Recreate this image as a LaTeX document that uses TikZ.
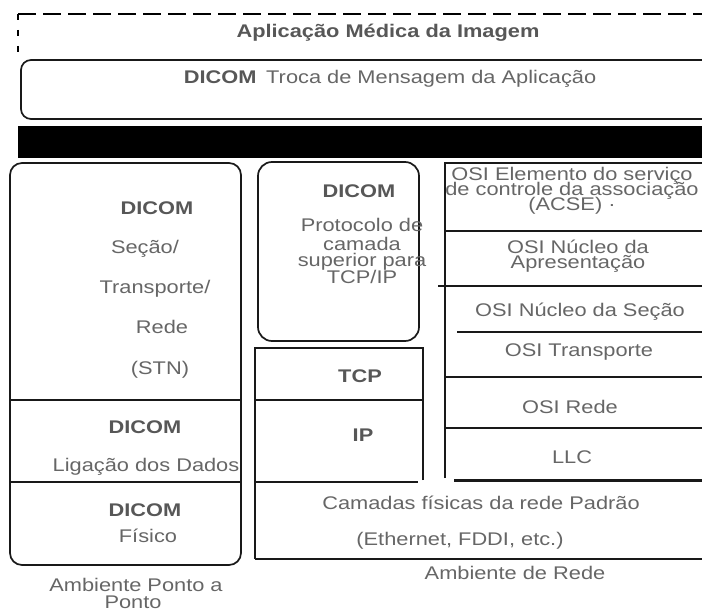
\documentclass[tikz,border=0pt]{standalone}
\usepackage{fontspec}
\setmainfont{Liberation Sans}
\newcommand{\sqz}[1]{\scalebox{1}[0.84]{#1}}
\tikzset{
  ln/.style={line width=0.85pt, draw=black!90},
  tx/.style={text=black!60, inner sep=0pt, anchor=base, font=\fontsize{10.9}{12}\selectfont},
  bx/.style={tx, text=black!66, font=\fontsize{10.9}{12}\selectfont\bfseries},
}
\begin{document}
\begin{tikzpicture}[x=0.5pt, y=-0.5pt]
\useasboundingbox (0,0) rectangle (702,610);
\clip (0,0) rectangle (702,610);
% top dashed frame
\draw[line width=0.8pt, dash pattern=on 9pt off 3.5pt] (18,14) -- (710,14);
\draw[line width=0.8pt, dash pattern=on 3pt off 5pt] (18,14) -- (18,56);
\node[bx] (title) at (388,38) {\sqz{Aplicação Médica da Imagem}};
% message exchange box
\draw[ln, rounded corners=5pt] (720,60) -| (21,119) -- (720,119);
\node[tx] (msg) at (390,84) {\sqz{\textbf{\color{black!66}DICOM}\hspace{0.45em}Troca de Mensagem da Aplicação}};
% black bar
\fill[black] (18,126) rectangle (710,158);
% left column
\draw[ln, rounded corners=6pt] (10,163) rectangle (241,565);
\draw[ln] (10,400) -- (241,400);
\draw[ln] (10,482) -- (241,482);
\node[bx] (ld1) at (157,214) {\sqz{DICOM}};
\node[tx] (lsec) at (145,253) {\sqz{Seção/}};
\node[tx] (ltra) at (155,293) {\sqz{Transporte/}};
\node[tx] (lred) at (162,333) {\sqz{Rede}};
\node[tx] (lstn) at (160,374) {\sqz{(STN)}};
\node[bx] (ld2) at (145,433) {\sqz{DICOM}};
\node[tx] (llig) at (146,471) {\sqz{Ligação dos Dados}};
\node[bx] (ld3) at (145,516) {\sqz{DICOM}};
\node[tx] (lfis) at (148,542) {\sqz{Físico}};
\node[tx] (lamb1) at (136,591) {\sqz{Ambiente Ponto a}};
\node[tx] (lamb2) at (133,608) {\sqz{Ponto}};
% middle column
\draw[ln, rounded corners=7pt] (258,162) rectangle (419,341);
\node[bx] (md) at (359,198) {\sqz{DICOM}};
\node[tx] (mp1) at (362,232) {\sqz{Protocolo de}};
\node[tx] (mp2) at (362,250) {\sqz{camada}};
\node[tx] (mp3) at (362,266) {\sqz{superior para}};
\node[tx] (mp4) at (362,284) {\sqz{TCP/IP}};
\draw[ln] (423,480) -- (423,348) -- (255,348) -- (255,559);
\draw[ln] (255,400) -- (423,400);
\draw[ln] (255,482) -- (418,482);
\node[bx] (mtcp) at (360,382) {\sqz{TCP}};
\node[bx] (mip) at (363,441) {\sqz{IP}};
% network box
\draw[ln] (255,559) -- (710,559);
\node[tx] (n1) at (481,509) {\sqz{Camadas físicas da rede Padrão}};
\node[tx] (n2) at (460,545) {\sqz{(Ethernet, FDDI, etc.)}};
\node[tx] (n3) at (515,579) {\sqz{Ambiente de Rede}};
% right column
\draw[ln] (445,478) -- (445,163) -- (710,163);
\draw[ln] (445,231) -- (710,231);
\draw[ln] (438,286) -- (710,286);
\draw[ln] (457,332) -- (710,332);
\draw[ln] (445,377) -- (710,377);
\draw[ln] (445,428) -- (710,428);
\draw[line width=1.5pt, draw=black!90] (454,480) -- (710,480);
\node[tx] (r1) at (572,181) {\sqz{OSI Elemento do serviço}};
\node[tx] (r2) at (572,196) {\sqz{de controle da associação}};
\node[tx] (r3) at (572,211) {\sqz{(ACSE) ·}};
\node[tx] (r4) at (578,253) {\sqz{OSI Núcleo da}};
\node[tx] (r5) at (578,268) {\sqz{Apresentação}};
\node[tx] (r6) at (580,316) {\sqz{OSI Núcleo da Seção}};
\node[tx] (r7) at (579,356) {\sqz{OSI Transporte}};
\node[tx] (r8) at (570,413) {\sqz{OSI Rede}};
\node[tx] (r9) at (572,463) {\sqz{LLC}};
\end{tikzpicture}
\end{document}
